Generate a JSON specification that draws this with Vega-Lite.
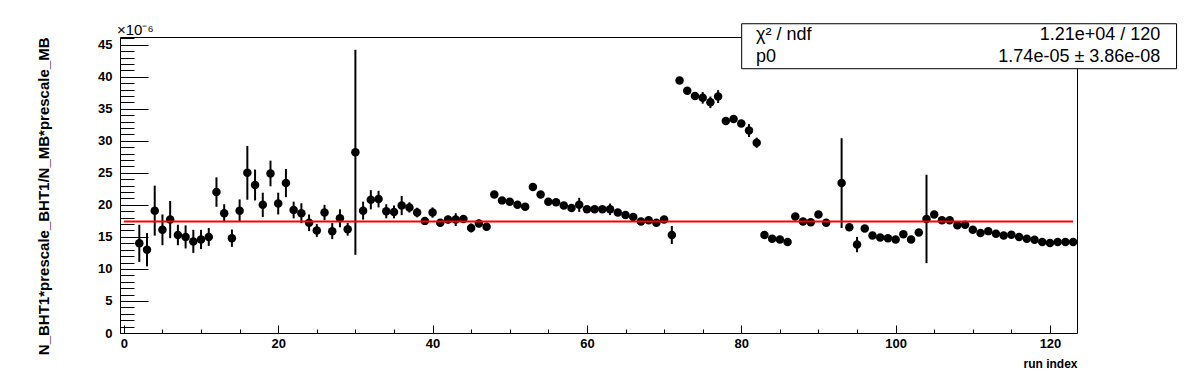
{
  "$schema": "https://vega.github.io/schema/vega-lite/v6.json",
  "width": 957,
  "height": 296,
  "autosize": {"type": "none"},
  "padding": {"left": 120, "top": 37, "right": 119, "bottom": 39},
  "background": "white",
  "config": {
    "font": "Liberation Sans",
    "view": {"stroke": "black", "strokeWidth": 1},
    "axis": {"grid": false, "domain": false, "tickColor": "black", "tickWidth": 1, "labelColor": "black", "titleColor": "black", "labelFont": "Liberation Sans", "titleFont": "Liberation Sans"}
  },
  "datasets": {
    "runs": [
      {"run": 2, "v": 14.0, "e": 2.9},
      {"run": 3, "v": 13.0, "e": 2.6},
      {"run": 4, "v": 19.1, "e": 3.9},
      {"run": 5, "v": 16.1, "e": 2.4},
      {"run": 6, "v": 17.7, "e": 2.9},
      {"run": 7, "v": 15.3, "e": 1.6},
      {"run": 8, "v": 15.0, "e": 1.8},
      {"run": 9, "v": 14.3, "e": 1.8},
      {"run": 10, "v": 14.6, "e": 1.5},
      {"run": 11, "v": 15.0, "e": 1.4},
      {"run": 12, "v": 22.0, "e": 2.3},
      {"run": 13, "v": 18.7, "e": 1.4},
      {"run": 14, "v": 14.8, "e": 1.35},
      {"run": 15, "v": 19.1, "e": 1.75},
      {"run": 16, "v": 25.0, "e": 4.2},
      {"run": 17, "v": 23.1, "e": 2.4},
      {"run": 18, "v": 20.0, "e": 1.9},
      {"run": 19, "v": 24.9, "e": 2.0},
      {"run": 20, "v": 20.2, "e": 1.7},
      {"run": 21, "v": 23.4, "e": 2.2},
      {"run": 22, "v": 19.2, "e": 1.3},
      {"run": 23, "v": 18.7, "e": 1.55},
      {"run": 24, "v": 17.2, "e": 1.3},
      {"run": 25, "v": 16.0, "e": 1.0},
      {"run": 26, "v": 18.8, "e": 1.2},
      {"run": 27, "v": 15.9, "e": 1.25},
      {"run": 28, "v": 17.9, "e": 1.4},
      {"run": 29, "v": 16.2, "e": 1.0},
      {"run": 30, "v": 28.2, "e": 16.0},
      {"run": 31, "v": 19.1, "e": 1.4},
      {"run": 32, "v": 20.8, "e": 1.5},
      {"run": 33, "v": 20.9, "e": 1.3},
      {"run": 34, "v": 19.0, "e": 1.1},
      {"run": 35, "v": 18.9, "e": 1.0},
      {"run": 36, "v": 19.9, "e": 1.5},
      {"run": 37, "v": 19.6, "e": 0.8},
      {"run": 38, "v": 18.8, "e": 0.75},
      {"run": 39, "v": 17.5, "e": 0.6},
      {"run": 40, "v": 18.8, "e": 0.8},
      {"run": 41, "v": 17.2, "e": 0.6},
      {"run": 42, "v": 17.7, "e": 0.6},
      {"run": 43, "v": 17.7, "e": 1.0},
      {"run": 44, "v": 17.8, "e": 0.6},
      {"run": 45, "v": 16.4, "e": 0.7},
      {"run": 46, "v": 17.1, "e": 0.6},
      {"run": 47, "v": 16.6, "e": 0.6},
      {"run": 48, "v": 21.6, "e": 0.5},
      {"run": 49, "v": 20.7, "e": 0.5},
      {"run": 50, "v": 20.5, "e": 0.5},
      {"run": 51, "v": 20.0, "e": 0.5},
      {"run": 52, "v": 19.7, "e": 0.5},
      {"run": 53, "v": 22.8, "e": 0.5},
      {"run": 54, "v": 21.6, "e": 0.5},
      {"run": 55, "v": 20.5, "e": 0.5},
      {"run": 56, "v": 20.4, "e": 0.5},
      {"run": 57, "v": 19.9, "e": 0.5},
      {"run": 58, "v": 19.5, "e": 0.5},
      {"run": 59, "v": 20.0, "e": 1.1},
      {"run": 60, "v": 19.3, "e": 0.5},
      {"run": 61, "v": 19.3, "e": 0.5},
      {"run": 62, "v": 19.3, "e": 0.5},
      {"run": 63, "v": 19.3, "e": 0.9},
      {"run": 64, "v": 18.8, "e": 0.5},
      {"run": 65, "v": 18.4, "e": 0.5},
      {"run": 66, "v": 18.1, "e": 0.5},
      {"run": 67, "v": 17.4, "e": 0.5},
      {"run": 68, "v": 17.6, "e": 0.5},
      {"run": 69, "v": 17.2, "e": 0.5},
      {"run": 70, "v": 17.7, "e": 0.5},
      {"run": 71, "v": 15.3, "e": 1.4},
      {"run": 72, "v": 39.4, "e": 0.5},
      {"run": 73, "v": 37.8, "e": 0.5},
      {"run": 74, "v": 37.0, "e": 0.5},
      {"run": 75, "v": 36.7, "e": 0.9},
      {"run": 76, "v": 36.0, "e": 0.9},
      {"run": 77, "v": 36.9, "e": 1.0},
      {"run": 78, "v": 33.1, "e": 0.5},
      {"run": 79, "v": 33.4, "e": 0.5},
      {"run": 80, "v": 32.7, "e": 0.5},
      {"run": 81, "v": 31.6, "e": 1.0},
      {"run": 82, "v": 29.7, "e": 0.8},
      {"run": 83, "v": 15.3, "e": 0.4},
      {"run": 84, "v": 14.7, "e": 0.4},
      {"run": 85, "v": 14.6, "e": 0.4},
      {"run": 86, "v": 14.2, "e": 0.4},
      {"run": 87, "v": 18.2, "e": 0.5},
      {"run": 88, "v": 17.4, "e": 0.4},
      {"run": 89, "v": 17.3, "e": 0.4},
      {"run": 90, "v": 18.5, "e": 0.5},
      {"run": 91, "v": 17.2, "e": 0.5},
      {"run": 93, "v": 23.4, "e": 7.0},
      {"run": 94, "v": 16.5, "e": 0.6},
      {"run": 95, "v": 13.8, "e": 1.2},
      {"run": 96, "v": 16.3, "e": 0.5},
      {"run": 97, "v": 15.2, "e": 0.4},
      {"run": 98, "v": 14.9, "e": 0.4},
      {"run": 99, "v": 14.8, "e": 0.4},
      {"run": 100, "v": 14.6, "e": 0.4},
      {"run": 101, "v": 15.4, "e": 0.4},
      {"run": 102, "v": 14.6, "e": 0.5},
      {"run": 103, "v": 15.7, "e": 0.5},
      {"run": 104, "v": 17.8, "e": 6.9},
      {"run": 105, "v": 18.5, "e": 0.5},
      {"run": 106, "v": 17.6, "e": 0.4},
      {"run": 107, "v": 17.6, "e": 0.4},
      {"run": 108, "v": 16.8, "e": 0.4},
      {"run": 109, "v": 16.9, "e": 0.4},
      {"run": 110, "v": 16.1, "e": 0.4},
      {"run": 111, "v": 15.6, "e": 0.4},
      {"run": 112, "v": 15.9, "e": 0.4},
      {"run": 113, "v": 15.5, "e": 0.4},
      {"run": 114, "v": 15.2, "e": 0.4},
      {"run": 115, "v": 15.35, "e": 0.4},
      {"run": 116, "v": 15.0, "e": 0.4},
      {"run": 117, "v": 14.7, "e": 0.4},
      {"run": 118, "v": 14.55, "e": 0.4},
      {"run": 119, "v": 14.2, "e": 0.4},
      {"run": 120, "v": 14.05, "e": 0.4},
      {"run": 121, "v": 14.2, "e": 0.4},
      {"run": 122, "v": 14.2, "e": 0.4},
      {"run": 123, "v": 14.2, "e": 0.4}
    ]
  },
  "layer": [
    {
      "data": {"name": "runs"},
      "mark": {"type": "errorbar", "ticks": false, "color": "black", "thickness": 2},
      "encoding": {
        "x": {"field": "run", "type": "quantitative", "scale": {"domain": [-0.5, 123.5], "nice": false, "zero": false},
          "axis": {"orient": "bottom", "values": [0, 20, 40, 60, 80, 100, 120], "tickSize": -8, "labelPadding": 12, "labelFontSize": 13, "labelFontWeight": "bold", "labelFlush": false, "labelOverlap": false, "title": "run index", "titleFontSize": 12, "titleFontWeight": "bold", "titleAnchor": "end", "titlePadding": 8}},
        "y": {"field": "v", "type": "quantitative", "scale": {"domain": [0, 46.2], "nice": false, "zero": false},
          "axis": {"orient": "left", "values": [0, 5, 10, 15, 20, 25, 30, 35, 40, 45], "tickSize": -28, "labelPadding": 36, "labelFontSize": 13, "labelFontWeight": "bold", "labelFlush": false, "labelOverlap": false, "title": "N_BHT1*prescale_BHT1/N_MB*prescale_MB", "titleFontSize": 15, "titleFontWeight": "bold", "titleAnchor": "end", "titleAlign": "right", "titleY": 0, "titlePadding": 46}},
        "yError": {"field": "e"}
      }
    },
    {
      "data": {"name": "runs"},
      "mark": {"type": "circle", "size": 72, "color": "black", "opacity": 1},
      "encoding": {
        "x": {"field": "run", "type": "quantitative", "scale": {"domain": [-0.5, 123.5], "nice": false, "zero": false},
          "axis": {"orient": "bottom", "values": [0, 5, 10, 15, 20, 25, 30, 35, 40, 45, 50, 55, 60, 65, 70, 75, 80, 85, 90, 95, 100, 105, 110, 115, 120], "tickSize": -4, "labels": false, "title": null}},
        "y": {"field": "v", "type": "quantitative", "scale": {"domain": [0, 46.2], "nice": false, "zero": false},
          "axis": {"orient": "left", "values": [0, 1, 2, 3, 4, 5, 6, 7, 8, 9, 10, 11, 12, 13, 14, 15, 16, 17, 18, 19, 20, 21, 22, 23, 24, 25, 26, 27, 28, 29, 30, 31, 32, 33, 34, 35, 36, 37, 38, 39, 40, 41, 42, 43, 44, 45, 46], "tickSize": -14, "labels": false, "title": null}}
      }
    },
    {
      "data": {"values": [{"p0": 17.4}]},
      "mark": {"type": "rule", "color": "#ff0000", "strokeWidth": 2},
      "encoding": {
        "x": {"datum": 0, "type": "quantitative", "scale": {"domain": [-0.5, 123.5], "nice": false, "zero": false}, "axis": null},
        "x2": {"datum": 123},
        "y": {"field": "p0", "type": "quantitative", "scale": {"domain": [0, 46.2], "nice": false, "zero": false}, "axis": null}
      }
    },
    {
      "data": {"values": [{}]},
      "mark": {"type": "text", "text": "×10⁻⁶", "align": "left", "baseline": "alphabetic", "fontSize": 15, "font": "Liberation Sans", "color": "black", "clip": false, "dx": -3, "dy": -2},
      "encoding": {
        "x": {"datum": -0.5, "type": "quantitative", "scale": {"domain": [-0.5, 123.5], "nice": false, "zero": false}, "axis": null},
        "y": {"datum": 46.2, "type": "quantitative", "scale": {"domain": [0, 46.2], "nice": false, "zero": false}, "axis": null}
      }
    },
    {
      "data": {"values": [{}]},
      "mark": {"type": "rect", "fill": "white", "stroke": "black", "strokeWidth": 1, "clip": false},
      "encoding": {
        "x": {"datum": 80.05, "type": "quantitative", "scale": {"domain": [-0.5, 123.5], "nice": false, "zero": false}, "axis": null},
        "x2": {"datum": 136.4},
        "y": {"datum": 48.27, "type": "quantitative", "scale": {"domain": [0, 46.2], "nice": false, "zero": false}, "axis": null},
        "y2": {"datum": 41.25}
      }
    },
    {
      "data": {"values": [{}]},
      "mark": {"type": "text", "text": "χ² / ndf", "align": "left", "baseline": "middle", "fontSize": 18, "font": "Liberation Sans", "color": "black", "clip": false},
      "encoding": {
        "x": {"datum": 81.9, "type": "quantitative", "scale": {"domain": [-0.5, 123.5], "nice": false, "zero": false}, "axis": null},
        "y": {"datum": 46.48, "type": "quantitative", "scale": {"domain": [0, 46.2], "nice": false, "zero": false}, "axis": null}
      }
    },
    {
      "data": {"values": [{}]},
      "mark": {"type": "text", "text": "p0", "align": "left", "baseline": "middle", "fontSize": 18, "font": "Liberation Sans", "color": "black", "clip": false},
      "encoding": {
        "x": {"datum": 81.9, "type": "quantitative", "scale": {"domain": [-0.5, 123.5], "nice": false, "zero": false}, "axis": null},
        "y": {"datum": 43.05, "type": "quantitative", "scale": {"domain": [0, 46.2], "nice": false, "zero": false}, "axis": null}
      }
    },
    {
      "data": {"values": [{}]},
      "mark": {"type": "text", "text": "1.21e+04 / 120", "align": "right", "baseline": "middle", "fontSize": 18, "font": "Liberation Sans", "color": "black", "clip": false},
      "encoding": {
        "x": {"datum": 134.3, "type": "quantitative", "scale": {"domain": [-0.5, 123.5], "nice": false, "zero": false}, "axis": null},
        "y": {"datum": 46.48, "type": "quantitative", "scale": {"domain": [0, 46.2], "nice": false, "zero": false}, "axis": null}
      }
    },
    {
      "data": {"values": [{}]},
      "mark": {"type": "text", "text": "1.74e-05 ± 3.86e-08", "align": "right", "baseline": "middle", "fontSize": 18, "font": "Liberation Sans", "color": "black", "clip": false},
      "encoding": {
        "x": {"datum": 134.3, "type": "quantitative", "scale": {"domain": [-0.5, 123.5], "nice": false, "zero": false}, "axis": null},
        "y": {"datum": 43.05, "type": "quantitative", "scale": {"domain": [0, 46.2], "nice": false, "zero": false}, "axis": null}
      }
    }
  ],
  "resolve": {"axis": {"x": "independent", "y": "independent"}}
}
